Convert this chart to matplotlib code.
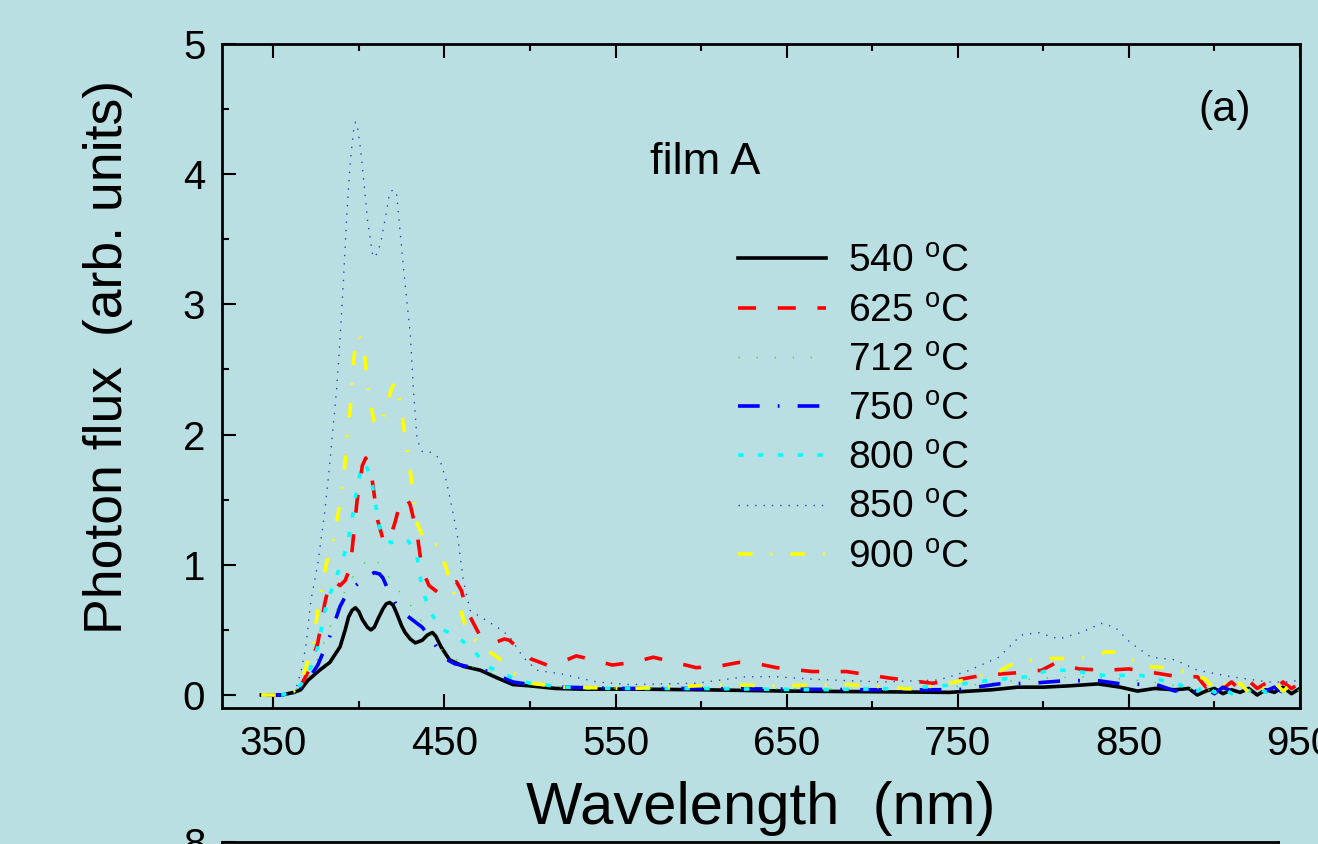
import matplotlib
matplotlib.use('Agg')
import matplotlib.pyplot as plt
from matplotlib.ticker import MultipleLocator

plt.rcParams['font.family'] = ['Liberation Sans', 'DejaVu Sans']
plt.rcParams['mathtext.fontset'] = 'custom'
plt.rcParams['mathtext.rm'] = 'Liberation Sans'

bg = '#BADFE2'

# spectra (wavelength in nm, photon flux in arb. units)
wl_540 = [343, 355, 362, 366, 370, 377, 383, 389, 392, 394, 396, 398, 400, 402, 405, 407, 409, 411,
          414, 416, 418, 420, 422, 425, 427, 430, 433, 437, 440, 443, 445, 448, 453, 461, 471, 481,
          490, 500, 515, 530, 560, 600, 650, 700, 745, 770, 785, 800, 815, 832, 845, 855, 865, 877,
          885, 890, 895, 900, 905, 910, 915, 920, 925, 930, 935, 940, 945, 950]
pf_540 = [0.0, 0.0, 0.02, 0.04, 0.11, 0.19, 0.25, 0.37, 0.50, 0.60, 0.65, 0.67, 0.64, 0.58, 0.52, 0.50,
          0.52, 0.58, 0.66, 0.70, 0.71, 0.69, 0.63, 0.53, 0.48, 0.43, 0.40, 0.42, 0.46, 0.48, 0.45,
          0.37, 0.27, 0.22, 0.19, 0.13, 0.08, 0.07, 0.05, 0.045, 0.045, 0.04, 0.03, 0.025, 0.02, 0.04,
          0.06, 0.06, 0.07, 0.085, 0.06, 0.03, 0.05, 0.04, 0.05, 0.0, 0.03, 0.05, 0.01, 0.04, 0.02,
          0.05, 0.0, 0.04, 0.02, 0.06, 0.01, 0.05]

wl_625 = [343, 355, 362, 366, 370, 376, 380, 383, 386, 389, 392, 395, 399, 402, 404, 406, 408, 411,
          414, 416, 418, 421, 424, 426, 428, 430, 434, 437, 441, 446, 449, 452, 457, 460, 463, 471,
          476, 481, 485, 488, 494, 500, 510, 518, 527, 537, 548, 560, 572, 585, 597, 610, 622, 633,
          644, 665, 685, 710, 735, 749, 764, 784, 799, 807, 821, 836, 850, 865, 879, 890, 895, 900,
          905, 910, 915, 920, 925, 930, 935, 940, 945, 950]
pf_625 = [0.0, 0.0, 0.03, 0.07, 0.17, 0.40, 0.70, 0.87, 0.87, 0.84, 0.88, 0.98, 1.50, 1.76, 1.82, 1.76,
          1.63, 1.34, 1.20, 1.17, 1.20, 1.32, 1.47, 1.51, 1.51, 1.46, 1.24, 0.96, 0.84, 0.79, 0.80,
          0.84, 0.87, 0.80, 0.65, 0.45, 0.42, 0.41, 0.43, 0.42, 0.35, 0.28, 0.23, 0.25, 0.30, 0.27,
          0.23, 0.25, 0.29, 0.25, 0.21, 0.22, 0.25, 0.24, 0.21, 0.18, 0.18, 0.13, 0.09, 0.115, 0.15,
          0.17, 0.19, 0.245, 0.20, 0.19, 0.20, 0.17, 0.14, 0.14, 0.06, 0.12, 0.05, 0.10, 0.04, 0.11,
          0.05, 0.09, 0.03, 0.10, 0.05, 0.09]

wl_712 = [343, 355, 362, 366, 371, 376, 383, 389, 395, 402, 408, 414, 420, 428, 435, 441, 450, 463,
          476, 490, 500, 520, 560, 620, 680, 740, 775, 800, 825, 850, 870, 885, 895, 905, 915, 925,
          935, 945, 950]
pf_712 = [0.0, 0.0, 0.03, 0.07, 0.15, 0.28, 0.52, 0.72, 0.88, 1.0, 1.06, 0.98, 0.85, 0.73, 0.60, 0.48,
          0.32, 0.23, 0.18, 0.10, 0.08, 0.06, 0.05, 0.05, 0.045, 0.05, 0.10, 0.13, 0.14, 0.12, 0.09,
          0.05, 0.04, 0.03, 0.05, 0.02, 0.04, 0.03, 0.04]

wl_750 = [343, 355, 362, 366, 371, 376, 383, 389, 393, 398, 402, 406, 409, 412, 414, 418, 422, 426,
          432, 437, 443, 449, 456, 463, 476, 490, 500, 520, 550, 600, 650, 700, 750, 774, 793, 813,
          832, 848, 865, 877, 885, 890, 895, 900, 905, 910, 915, 920, 925, 930, 935, 940, 945, 950]
pf_750 = [0.0, 0.0, 0.03, 0.06, 0.13, 0.23, 0.45, 0.68, 0.78, 0.84, 0.88, 0.92, 0.94, 0.93, 0.90, 0.78,
          0.69, 0.63, 0.57, 0.52, 0.42, 0.29, 0.24, 0.22, 0.18, 0.10, 0.08, 0.06, 0.05, 0.05, 0.045,
          0.04, 0.04, 0.085, 0.09, 0.11, 0.11, 0.08, 0.085, 0.03, 0.06, 0.02, 0.05, 0.01, 0.06, 0.03,
          0.07, 0.02, 0.05, 0.03, 0.06, 0.02, 0.05, 0.04]

wl_800 = [343, 355, 362, 366, 371, 376, 381, 388, 393, 396, 399, 401, 403, 405, 408, 412, 416, 419,
          422, 426, 429, 432, 434, 437, 442, 449, 456, 465, 475, 490, 500, 520, 550, 600, 667, 720,
          750, 770, 790, 803, 815, 836, 857, 877, 890, 895, 900, 905, 910, 915, 920, 925, 930, 935,
          940, 945, 950]
pf_800 = [0.0, 0.0, 0.03, 0.08, 0.18, 0.37, 0.70, 0.95, 1.14, 1.35, 1.60, 1.72, 1.78, 1.74, 1.60, 1.29,
          1.19, 1.17, 1.18, 1.20, 1.18, 1.12, 1.06, 0.81, 0.63, 0.50, 0.46, 0.37, 0.22, 0.13, 0.09,
          0.06, 0.05, 0.05, 0.04, 0.05, 0.08, 0.115, 0.14, 0.19, 0.19, 0.15, 0.15, 0.09, 0.03, 0.08,
          0.02, 0.06, 0.01, 0.05, 0.03, 0.07, 0.02, 0.05, 0.03, 0.06, 0.04]

wl_850 = [343, 355, 362, 366, 369, 372, 376, 380, 383, 387, 389, 391, 393, 395, 397, 398, 399, 401,
          403, 405, 408, 409, 411, 413, 416, 418, 420, 422, 424, 426, 428, 430, 432, 434, 437, 441,
          447, 451, 455, 458, 461, 465, 471, 481, 488, 496, 504, 519, 539, 558, 597, 626, 644, 667,
          706, 739, 755, 774, 787, 797, 809, 822, 834, 842, 851, 863, 877, 890, 910, 931, 945, 950]
pf_850 = [0.0, 0.0, 0.0, 0.17, 0.37, 0.73, 1.01, 1.40, 1.78, 2.35, 2.73, 3.19, 3.71, 4.10, 4.35, 4.40,
          4.38, 4.19, 3.93, 3.65, 3.38, 3.36, 3.40, 3.49, 3.70, 3.86, 3.88, 3.86, 3.57, 3.29, 3.03,
          2.78, 2.32, 1.96, 1.87, 1.87, 1.82, 1.65, 1.40, 1.19, 0.88, 0.65, 0.60, 0.52, 0.45, 0.29,
          0.19, 0.16, 0.10, 0.08, 0.09, 0.14, 0.14, 0.12, 0.10, 0.115, 0.18, 0.29, 0.46, 0.48, 0.43,
          0.48, 0.55, 0.52, 0.40, 0.29, 0.27, 0.19, 0.14, 0.10, 0.10, 0.12]

wl_900 = [343, 355, 362, 368, 373, 376, 381, 386, 391, 393, 395, 396, 397, 398, 399, 401, 403, 405,
          407, 409, 412, 416, 419, 421, 423, 425, 428, 431, 434, 439, 446, 451, 453, 457, 459, 463,
          472, 482, 490, 500, 520, 560, 616, 638, 686, 725, 749, 774, 781, 797, 813, 828, 836, 842,
          851, 857, 871, 883, 895, 900, 905, 910, 915, 920, 925, 930, 935, 940, 945, 950]
pf_900 = [0.0, 0.0, 0.03, 0.17, 0.37, 0.65, 1.01, 1.24, 1.65, 1.96, 2.21, 2.37, 2.57, 2.70, 2.76, 2.74,
          2.65, 2.40, 2.22, 2.10, 2.06, 2.20, 2.35, 2.40, 2.33, 2.17, 1.90, 1.63, 1.32, 1.17, 1.15,
          0.98, 0.88, 0.73, 0.68, 0.49, 0.37, 0.28, 0.17, 0.09, 0.06, 0.05, 0.08, 0.07, 0.08, 0.045,
          0.10, 0.18, 0.23, 0.28, 0.28, 0.29, 0.33, 0.33, 0.28, 0.22, 0.21, 0.18, 0.12, 0.04, 0.10,
          0.03, 0.09, 0.02, 0.08, 0.04, 0.10, 0.03, 0.08, 0.05]

labels = ['540 $^{\\mathregular{o}}$C', '625 $^{\\mathregular{o}}$C', '712 $^{\\mathregular{o}}$C',
          '750 $^{\\mathregular{o}}$C', '800 $^{\\mathregular{o}}$C', '850 $^{\\mathregular{o}}$C',
          '900 $^{\\mathregular{o}}$C']

fig = plt.figure(figsize=(13.18, 8.44), dpi=100, facecolor=bg)
ax = fig.add_axes([222/1318, 1 - 708/844, (1300 - 222)/1318, (708 - 44)/844])
ax.set_facecolor(bg)

ax.plot(wl_540, pf_540, color='black', lw=2.6, ls='-', label=labels[0])
ax.plot(wl_625, pf_625, color='#FF0000', lw=2.6, ls=(0, (5, 6)), label=labels[1])
ax.plot(wl_712, pf_712, color='#33DD33', lw=1.0, ls=(0, (1, 12)), label=labels[2])
ax.plot(wl_750, pf_750, color='#0000FF', lw=2.6, ls=(0, (6, 5, 0.5, 5)), label=labels[3])
ax.plot(wl_800, pf_800, color='#00FFFF', lw=2.6, ls=(0, (1.5, 4)), label=labels[4])
ax.plot(wl_850, pf_850, color='#3344BB', lw=1.0, ls=(0, (1, 5)), label=labels[5])
ax.plot(wl_900, pf_900, color='#FFFF00', lw=2.6, ls=(0, (4, 5, 0.5, 5)), label=labels[6])

ax.set_xlim(320, 950)
ax.set_ylim(-0.1, 5)
ax.set_xticks([350, 450, 550, 650, 750, 850, 950])
ax.xaxis.set_minor_locator(MultipleLocator(50))
ax.set_yticks([0, 1, 2, 3, 4, 5])
ax.yaxis.set_minor_locator(MultipleLocator(0.5))
ax.tick_params(which='both', direction='in', top=True, right=False, width=1.5, labelsize=29)
ax.tick_params(which='major', length=10)
ax.tick_params(which='minor', length=5)
ax.tick_params(axis='x', pad=12)
ax.tick_params(axis='y', pad=12)
for s in ax.spines.values():
    s.set_linewidth(2)

ax.set_xlabel('Wavelength  (nm)', fontsize=43, labelpad=13)
ax.set_ylabel('Photon flux  (arb. units)', fontsize=38.5)
ax.yaxis.set_label_coords(-0.083, 0.529)

ax.text(650/1318, 1 - 162/844, 'film A', transform=fig.transFigure, fontsize=32.5, va='center')
ax.text(1198/1318, 1 - 110/844, '(a)', transform=fig.transFigure, fontsize=31, va='center')

ax.legend(loc='upper left', bbox_to_anchor=(738/1318, 1 - 244/844), bbox_transform=fig.transFigure,
          frameon=False, fontsize=28, handlelength=2.26, handletextpad=0.57, labelspacing=0.34,
          borderpad=0, borderaxespad=0)

# top edge of the next panel, cut off by the page
ax2 = fig.add_axes([222/1318, -0.3, (1278 - 222)/1318, 0.3 + 1 - 842/844])
ax2.set_facecolor(bg)
ax2.set_ylim(0, 8)
ax2.set_yticks([8])
ax2.set_xticks([])
ax2.tick_params(direction='in', length=10, width=1.5, labelsize=29, pad=12)
for s in ax2.spines.values():
    s.set_linewidth(2)

fig.savefig('out.png', dpi=100, facecolor=bg)
